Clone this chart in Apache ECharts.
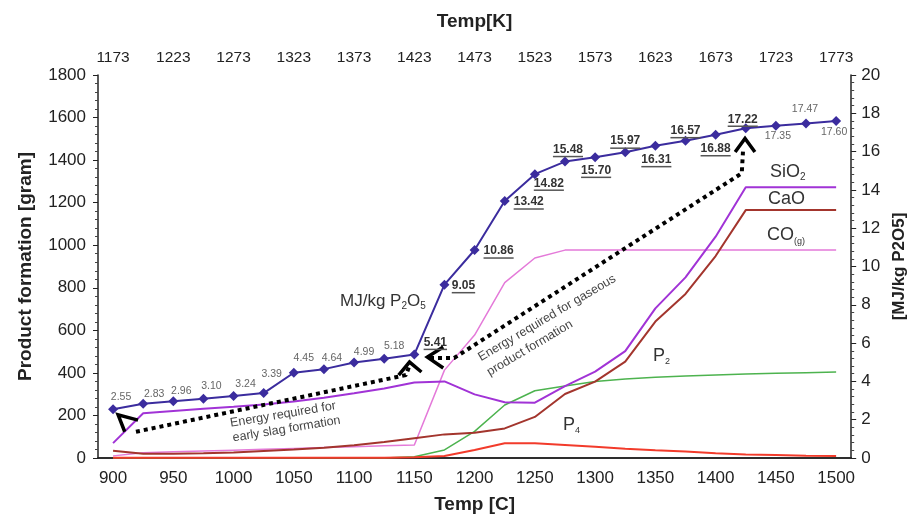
<!DOCTYPE html>
<html>
<head>
<meta charset="utf-8">
<script src="https://cdn.jsdelivr.net/npm/echarts@6/dist/echarts.min.js"></script>
<style>
html, body { margin: 0; padding: 0; background: #fff; }
#chart { width: 916px; height: 519px; }
</style>
</head>
<body>
<div id="chart"></div>
<script>
// temperature categories (every 25 C) and the same points in Kelvin
const tempC = [900, 925, 950, 975, 1000, 1025, 1050, 1075, 1100, 1125, 1150, 1175, 1200,
  1225, 1250, 1275, 1300, 1325, 1350, 1375, 1400, 1425, 1450, 1475, 1500];
const tempK = [1173, 1198, 1223, 1248, 1273, 1298, 1323, 1348, 1373, 1398, 1423, 1448, 1473,
  1498, 1523, 1548, 1573, 1598, 1623, 1648, 1673, 1698, 1723, 1748, 1773];

// energy, MJ/kg P2O5 (right axis)
const mjPerKg = [2.55, 2.83, 2.96, 3.10, 3.24, 3.39, 4.45, 4.64, 4.99, 5.18, 5.41, 9.05, 10.86,
  13.42, 14.82, 15.48, 15.70, 15.97, 16.31, 16.57, 16.88, 17.22, 17.35, 17.47, 17.60];

// product formation, gram (left axis)
const sio2 = [70, 210, 221, 232, 241, 252, 266, 283, 304, 327, 355, 360, 299,
  262, 260, 338, 406, 502, 703, 849, 1040, 1272, 1272, 1272, 1272];
const cao = [34, 20, 20, 22, 26, 33, 40, 48, 60, 75, 93, 111, 119,
  139, 193, 301, 359, 453, 641, 771, 949, 1165, 1165, 1165, 1165];
const coGas = [10, 25, 29, 33, 37, 41, 45, 49, 53, 57, 61, 413, 578,
  824, 940, 977, 977, 977, 977, 977, 977, 977, 977, 977, 977];
const p2 = [0, 0, 0, 0, 0, 0, 0, 0, 0, 0, 6, 38, 125,
  249, 316, 338, 359, 371, 379, 385, 390, 395, 398, 401, 404];
const p4 = [1, 1, 1, 1, 1, 1, 1, 1, 1, 1, 3, 9, 38,
  69, 69, 61, 53, 44, 36, 30, 22, 17, 14, 11, 9];

// dotted "energy required" arrows, in [temp C, MJ/kg]
const slagPath = [[919, 1.37], [1143, 4.33], [1145.5, 4.75]];
const gasPath = [[1163, 5.22], [1183, 5.22], [1421.7, 14.87], [1422.7, 16.0]];
const heads = [
  [[920.7, 1.98], [904.2, 2.25], [909.7, 1.37]],
  [[1137, 4.33], [1146, 5.01], [1155.9, 4.49]],
  [[1174, 5.8], [1160.8, 5.27], [1174, 4.7]],
  [[1416.2, 15.98], [1424.4, 16.69], [1432.6, 15.98]]
];

const FONT = "'Liberation Sans', Arial, sans-serif";

// label placement for the MJ/kg points: [dx, dy, bold]
const lblPlace = [
  [8, -12, 0], [11, -10, 0], [8, -10, 0], [8, -13, 0], [12, -12, 0], [8, -19, 0],
  [10, -15, 0], [8, -11, 0], [10, -10, 0], [10, -13, 0],
  [21, -12, 1], [19, 1, 1], [24, 1, 1], [24, 1, 1], [14, 9, 1], [3, -12, 1], [1, 13, 1],
  [0, -11, 1], [1, 14, 1], [0, -10, 1], [0, 14, 1], [-3, -9, 1],
  [2, 10, 0], [-1, -14, 0], [-2, 11, 0]
];

const mjData = mjPerKg.map((v, i) => {
  const p = lblPlace[i];
  const txt = v.toFixed(2);
  const w = (txt.length - 1) * 6.7 + 3.3;
  return {
    value: v,
    label: {
      show: true,
      position: 'inside',
      offset: [p[0], p[1] + (p[2] ? 1 : 0)],
      formatter: p[2] ? '{v|' + txt + '}\n{u| }' : '{g|' + txt + '}',
      rich: {
        g: { fontSize: 10.5, color: '#666', fontFamily: FONT },
        v: { fontSize: 12, fontWeight: 'bold', color: '#333', fontFamily: FONT, lineHeight: 12 },
        u: { width: w, height: 1.5, lineHeight: 2, fontSize: 1, backgroundColor: '#555' }
      }
    }
  };
});

const chart = echarts.init(document.getElementById('chart'));

const gramLine = (name, data, color, width) => ({
  name: name,
  type: 'line',
  xAxisIndex: 0,
  yAxisIndex: 0,
  data: data,
  symbol: 'none',
  lineStyle: { color: color, width: width },
  silent: true
});

const annoLine = (data, style) => ({
  type: 'line',
  xAxisIndex: 2,
  yAxisIndex: 1,
  data: data,
  symbol: 'none',
  lineStyle: style,
  silent: true,
  z: 5
});

const txt = { fontFamily: FONT, color: '#222' };

chart.setOption({
  animation: false,
  textStyle: { fontFamily: FONT },
  grid: { left: 98, right: 59, top: 75, bottom: 61 },
  xAxis: [
    {
      type: 'category',
      position: 'bottom',
      data: tempC,
      boundaryGap: true,
      name: 'Temp [C]',
      nameLocation: 'middle',
      nameGap: 37,
      nameTextStyle: { fontSize: 19, fontWeight: 'bold', color: '#222', fontFamily: FONT },
      axisLine: { lineStyle: { color: '#222', width: 1.5 } },
      axisTick: { interval: 0, alignWithLabel: false, inside: true, length: 5, lineStyle: { color: '#222' } },
      axisLabel: { interval: 1, fontSize: 17, margin: 12, ...txt },
      splitLine: { show: false }
    },
    {
      type: 'category',
      position: 'top',
      data: tempK,
      boundaryGap: true,
      name: 'Temp[K]',
      nameLocation: 'middle',
      nameGap: 44,
      nameTextStyle: { fontSize: 19, fontWeight: 'bold', color: '#222', fontFamily: FONT },
      axisLine: { lineStyle: { color: '#222', width: 1.5 } },
      axisTick: { interval: 0, alignWithLabel: false, inside: true, length: 5, lineStyle: { color: '#222' } },
      axisLabel: { interval: 1, fontSize: 15.5, margin: 9, ...txt },
      splitLine: { show: false }
    },
    {
      type: 'value',
      min: 887.5,
      max: 1512.5,
      show: false
    }
  ],
  yAxis: [
    {
      type: 'value',
      position: 'left',
      min: 0,
      max: 1800,
      interval: 200,
      name: 'Product formation [gram]',
      nameLocation: 'middle',
      nameRotate: 90,
      nameGap: 63,
      nameTextStyle: { fontSize: 19, fontWeight: 'bold', color: '#222', fontFamily: FONT },
      axisLine: { show: true, lineStyle: { color: '#222', width: 1.5 } },
      axisTick: { show: true, length: 5, lineStyle: { color: '#222' } },
      minorTick: { show: true, splitNumber: 5, length: 3, lineStyle: { color: '#444' } },
      axisLabel: { fontSize: 17, margin: 12, formatter: v => String(v), ...txt },
      splitLine: { show: false }
    },
    {
      type: 'value',
      position: 'right',
      min: 0,
      max: 20,
      interval: 2,
      name: '[MJ/kg P2O5]',
      nameLocation: 'middle',
      nameRotate: 90,
      nameGap: 30,
      nameTextStyle: { fontSize: 17, fontWeight: 'bold', color: '#222', fontFamily: FONT },
      axisLine: { show: true, lineStyle: { color: '#222', width: 1.5 } },
      axisTick: { show: true, length: 5, lineStyle: { color: '#222' } },
      minorTick: { show: true, splitNumber: 5, length: 3, lineStyle: { color: '#444' } },
      axisLabel: { fontSize: 17, margin: 10, ...txt },
      splitLine: { show: false }
    }
  ],
  series: [
    gramLine('CO(g)', coGas, '#e47ad9', 1.5),
    gramLine('P2', p2, '#4db34f', 1.5),
    gramLine('CaO', cao, '#a3352d', 2),
    gramLine('SiO2', sio2, '#a133d6', 2),
    gramLine('P4', p4, '#f23b2b', 2),
    annoLine(slagPath, { color: '#000', width: 4, type: [4, 4], cap: 'butt' }),
    annoLine(gasPath, { color: '#000', width: 4, type: [4, 4], cap: 'butt' }),
    ...heads.map(h => annoLine(h, { color: '#000', width: 3.5, join: 'miter', cap: 'butt' })),
    {
      name: 'MJ/kg P2O5',
      type: 'line',
      xAxisIndex: 0,
      yAxisIndex: 1,
      data: mjData,
      symbol: 'diamond',
      symbolSize: 10,
      itemStyle: { color: '#3b2c9e' },
      lineStyle: { color: '#3b2c9e', width: 2 },
      z: 6,
      silent: true
    }
  ],
  graphic: [
    {
      type: 'text', left: 340, top: 293,
      style: {
        text: '{a|MJ/kg P}{s|2}{a|O}{s|5}',
        rich: {
          a: { fontSize: 17, fill: '#333', fontFamily: FONT, lineHeight: 20, verticalAlign: 'middle' },
          s: { fontSize: 10, fill: '#333', fontFamily: FONT, lineHeight: 20, verticalAlign: 'bottom' }
        }
      }
    },
    {
      type: 'text', left: 770, top: 163,
      style: {
        text: '{a|SiO}{s|2}',
        rich: {
          a: { fontSize: 18, fill: '#333', fontFamily: FONT, lineHeight: 21 },
          s: { fontSize: 10, fill: '#333', fontFamily: FONT, lineHeight: 21, verticalAlign: 'bottom' }
        }
      }
    },
    {
      type: 'text', left: 768, top: 190,
      style: { text: 'CaO', fontSize: 18, fill: '#333', fontFamily: FONT }
    },
    {
      type: 'text', left: 767, top: 226,
      style: {
        text: '{a|CO}{s|(g)}',
        rich: {
          a: { fontSize: 18, fill: '#333', fontFamily: FONT, lineHeight: 22 },
          s: { fontSize: 9, fill: '#333', fontFamily: FONT, lineHeight: 22, verticalAlign: 'bottom' }
        }
      }
    },
    {
      type: 'text', left: 653, top: 347,
      style: {
        text: '{a|P}{s|2}',
        rich: {
          a: { fontSize: 18, fill: '#333', fontFamily: FONT, lineHeight: 21 },
          s: { fontSize: 9, fill: '#333', fontFamily: FONT, lineHeight: 21, verticalAlign: 'bottom' }
        }
      }
    },
    {
      type: 'text', left: 563, top: 416,
      style: {
        text: '{a|P}{s|4}',
        rich: {
          a: { fontSize: 18, fill: '#333', fontFamily: FONT, lineHeight: 21 },
          s: { fontSize: 9, fill: '#333', fontFamily: FONT, lineHeight: 21, verticalAlign: 'bottom' }
        }
      }
    },
    {
      type: 'text', x: 229, y: 416, rotation: 0.166,
      style: {
        text: 'Energy required for\nearly slag formation',
        fontSize: 12.5, lineHeight: 15, fill: '#444', fontFamily: FONT,
        align: 'left', verticalAlign: 'top'
      }
    },
    {
      type: 'text', x: 475, y: 351, rotation: 0.536,
      style: {
        text: 'Energy required for gaseous\nproduct formation',
        fontSize: 12.5, lineHeight: 17, fill: '#444', fontFamily: FONT,
        align: 'left', verticalAlign: 'top'
      }
    }
  ]
});
</script>
</body>
</html>
